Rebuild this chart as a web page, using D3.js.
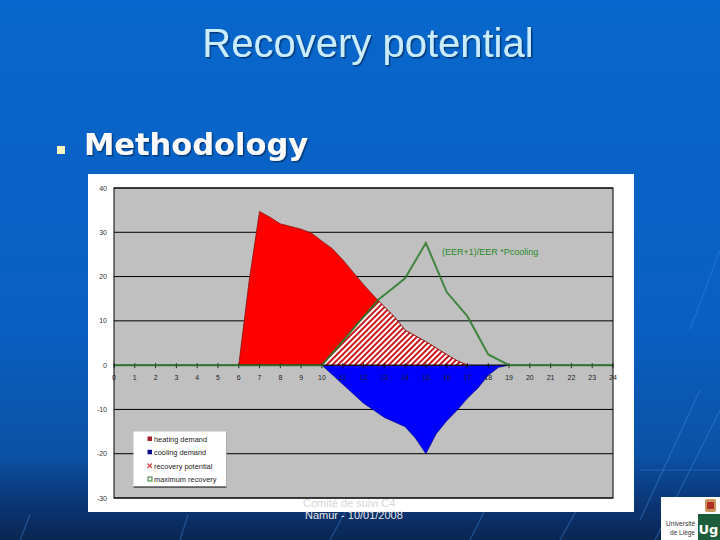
<!DOCTYPE html>
<html><head><meta charset="utf-8">
<script src="https://cdn.jsdelivr.net/npm/d3@7/dist/d3.min.js"></script>
<style>html,body{margin:0;padding:0;background:#0a5fc2;}svg{display:block;}</style>
</head><body>
<svg id="c" width="720" height="540"></svg>
<script>
// ---- data ----
const hourTicks = d3.range(0, 25);
const yTicks = [-30, -20, -10, 0, 10, 20, 30, 40];

const heatHours  = [6, 6.5, 7, 7.5, 8, 8.5, 9, 9.5, 10, 10.5, 11, 11.5, 12, 12.5, 13, 13.5, 14, 15, 16, 16.5, 17];
const heatValues = [0, 19, 34.7, 33.4, 31.9, 31.3, 30.7, 29.8, 28.0, 26.3, 23.8, 21.0, 18.2, 15.6, 13.2, 10.8, 7.9, 5.3, 2.4, 1.0, 0];

const coolHours  = [10, 11, 12, 12.5, 13, 14, 14.5, 15, 15.5, 16, 16.5, 17, 17.5, 18, 18.5, 19];
const coolValues = [0, -4.3, -8.6, -10.2, -11.8, -13.9, -16.5, -20, -15.5, -12.6, -10.2, -7.5, -5.2, -2.3, -0.5, 0];

const recHours  = [10, 11, 12, 12.7, 13, 13.5, 14, 15, 16, 16.5, 17];
const recValues = [0, 5.4, 10.9, 14.6, 13.2, 10.8, 7.9, 5.3, 2.4, 1.0, 0];

const maxHours  = [0, 10, 11, 12, 12.7, 14, 15, 16, 17, 18, 19, 24];
const maxValues = [0, 0, 5.4, 10.9, 14.7, 19.6, 27.6, 16.5, 11.0, 2.4, 0, 0];

const legendLabels = ["heating demand", "cooling demand", "recovery potential", "maximum recovery"];
const annotation = "(EER+1)/EER *Pcooling";

// ---- drawing ----
const svg = d3.select("#c");
const defs = svg.append("defs");
const bg = defs.append("linearGradient").attr("id","bg").attr("x1",0).attr("y1",0).attr("x2",0).attr("y2",1);
[[0,"#0867cc"],[0.6,"#0a5fc2"],[0.84,"#0b52a6"],[0.94,"#0b3472"],[1,"#0a2652"]].forEach(s=>bg.append("stop").attr("offset",s[0]).attr("stop-color",s[1]));
const pat = defs.append("pattern").attr("id","hatch").attr("patternUnits","userSpaceOnUse")
  .attr("width",4).attr("height",4).attr("patternTransform","rotate(45)");
pat.append("rect").attr("width",4).attr("height",4).attr("fill","#ffffff");
pat.append("rect").attr("width",2).attr("height",4).attr("fill","#c8181c");
const sh = defs.append("filter").attr("id","shadow").attr("x","-10%").attr("y","-20%").attr("width","130%").attr("height","150%");
sh.append("feDropShadow").attr("dx",1.5).attr("dy",1.5).attr("stdDeviation",0.6).attr("flood-color","#04285a").attr("flood-opacity",0.7);

svg.append("rect").attr("width",720).attr("height",540).attr("fill","url(#bg)");
// faint background streaks
const streaks = [[330,540,345,512],[470,540,490,500],[560,540,585,495],[640,520,700,390],[655,540,720,410],[690,330,720,250],[640,470,720,470],[20,540,30,515],[180,540,188,515]];
svg.selectAll("line.streak").data(streaks).join("line").attr("class","streak")
  .attr("x1",d=>d[0]).attr("y1",d=>d[1]).attr("x2",d=>d[2]).attr("y2",d=>d[3])
  .attr("stroke","#3f88d8").attr("stroke-opacity",0.45).attr("stroke-width",1.2);

// title
svg.append("text").attr("x",368).attr("y",56.5).attr("text-anchor","middle")
  .attr("font-family","Liberation Sans, Arial, sans-serif").attr("font-size",40)
  .attr("fill","#c9edfc").attr("filter","url(#shadow)").text("Recovery potential");

// bullet + subtitle
svg.append("rect").attr("x",57).attr("y",146).attr("width",8).attr("height",8).attr("fill","#fbf7c0");
svg.append("text").attr("x",84).attr("y",154.5).attr("font-family","DejaVu Sans, Verdana, sans-serif")
  .attr("font-weight","bold").attr("font-size",30.5).attr("fill","#fbfbfb").attr("filter","url(#shadow)").text("Methodology");

// chart frame
svg.append("rect").attr("x",88).attr("y",174).attr("width",546).attr("height",338).attr("fill","#ffffff");

const x = d3.scaleLinear().domain([0,24]).range([114,613]);
const y = d3.scaleLinear().domain([-30,40]).range([498,188]);

svg.append("rect").attr("x",x(0)).attr("y",y(40)).attr("width",x(24)-x(0)).attr("height",y(-30)-y(40))
  .attr("fill","#c0c0c0");

// gridlines
svg.append("g").selectAll("line").data(yTicks.filter(v=>v!==0)).join("line")
  .attr("x1",x(0)).attr("x2",x(24)).attr("y1",d=>y(d)).attr("y2",d=>y(d))
  .attr("stroke","#000").attr("stroke-width",1);

// y labels
svg.append("g").selectAll("text").data(yTicks).join("text")
  .attr("x",107).attr("y",d=>y(d)+2.5).attr("text-anchor","end")
  .attr("font-family","Liberation Sans, Arial, sans-serif").attr("font-size",7).attr("fill","#333")
  .text(d=>d);

const zip = (hs, vs) => hs.map((h,i)=>[h, vs[i]]);
const area = d3.area().x(d=>x(d[0])).y0(y(0)).y1(d=>y(d[1]));
const line = d3.line().x(d=>x(d[0])).y(d=>y(d[1]));

svg.append("path").datum(zip(heatHours,heatValues)).attr("d",area)
  .attr("fill","#ff0000").attr("stroke","#8a1010").attr("stroke-width",0.8);
svg.append("path").datum(zip(coolHours,coolValues)).attr("d",area)
  .attr("fill","#0000ff").attr("stroke","#00007a").attr("stroke-width",0.6);
svg.append("path").datum(zip(recHours,recValues)).attr("d",area)
  .attr("fill","url(#hatch)").attr("stroke","#8a1010").attr("stroke-width",0.6);

// x axis line + ticks
svg.append("line").attr("x1",x(0)).attr("x2",x(24)).attr("y1",y(0)).attr("y2",y(0)).attr("stroke","#000");
svg.append("g").selectAll("line").data(hourTicks).join("line")
  .attr("x1",d=>x(d)).attr("x2",d=>x(d)).attr("y1",y(0)-2).attr("y2",y(0)+3)
  .attr("stroke","#000").attr("stroke-width",0.8);
svg.append("g").selectAll("text").data(hourTicks).join("text")
  .attr("x",d=>x(d)).attr("y",y(0)+14.5).attr("text-anchor","middle")
  .attr("font-family","Liberation Sans, Arial, sans-serif").attr("font-size",7).attr("fill","#222")
  .text(d=>d);

// maximum recovery line
svg.append("path").datum(zip(maxHours,maxValues)).attr("d",line)
  .attr("fill","none").attr("stroke","#2a7a2a").attr("stroke-opacity",0.85).attr("stroke-width",2);

// plot border
svg.append("rect").attr("x",x(0)).attr("y",y(40)).attr("width",x(24)-x(0)).attr("height",y(-30)-y(40))
  .attr("fill","none").attr("stroke","#000").attr("stroke-width",1);

// annotation
svg.append("text").attr("x",442).attr("y",255).attr("font-family","Liberation Sans, Arial, sans-serif")
  .attr("font-size",9).attr("fill","#2a8a2a").text(annotation);

// legend
const lg = svg.append("g");
lg.append("rect").attr("x",133.5).attr("y",431.5).attr("width",93).attr("height",55.5).attr("fill","#fff");
lg.append("line").attr("x1",133.5).attr("x2",226.5).attr("y1",487).attr("y2",487).attr("stroke","#000");
lg.append("line").attr("x1",226.5).attr("x2",226.5).attr("y1",432).attr("y2",487).attr("stroke","#888").attr("stroke-width",0.6);
const rowsY = [439, 452.3, 466, 479];
legendLabels.forEach((t,i)=>{
  const yy = rowsY[i];
  if (i===0) lg.append("rect").attr("x",147.5).attr("y",yy-2.5).attr("width",4.5).attr("height",4.5).attr("fill","#a31f2a");
  if (i===1) lg.append("rect").attr("x",147.5).attr("y",yy-2.5).attr("width",4.5).attr("height",4.5).attr("fill","#0c0c8a");
  if (i===2) {
    lg.append("path").attr("d",`M147.5,${yy-2.5}L152,${yy+2}M152,${yy-2.5}L147.5,${yy+2}`).attr("stroke","#d04040").attr("stroke-width",1.1);
  }
  if (i===3) lg.append("rect").attr("x",148).attr("y",yy-2).attr("width",4).attr("height",4).attr("fill","#fff").attr("stroke","#2a7f2a").attr("stroke-width",1);
  lg.append("text").attr("x",154).attr("y",yy+2.5).attr("font-family","Liberation Sans, Arial, sans-serif")
    .attr("font-size",7.4).attr("fill","#222").text(t);
});

// footer
svg.append("text").attr("x",303).attr("y",507).attr("font-family","Liberation Sans, Arial, sans-serif")
  .attr("font-size",11).attr("fill","#d6d6d6").text("Comité de suivi C4");
svg.append("text").attr("x",305).attr("y",518.5).attr("font-family","Liberation Sans, Arial, sans-serif")
  .attr("font-size",11).attr("fill","#e8e8e8").text("Namur - 10/01/2008");

// logo
const logo = svg.append("g");
logo.append("rect").attr("x",661).attr("y",497).attr("width",59).attr("height",43).attr("fill","#fff");
logo.append("text").attr("x",695).attr("y",526).attr("text-anchor","end").attr("font-family","Liberation Sans, Arial, sans-serif")
  .attr("font-size",6.5).attr("fill","#333").text("Université");
logo.append("text").attr("x",695).attr("y",535).attr("text-anchor","end").attr("font-family","Liberation Sans, Arial, sans-serif")
  .attr("font-size",6.5).attr("fill","#333").text("de Liège");
logo.append("rect").attr("x",698).attr("y",514).attr("width",22).attr("height",26).attr("fill","#1c5e3c");
logo.append("text").attr("x",708.5).attr("y",534).attr("text-anchor","middle").attr("font-family","DejaVu Sans, sans-serif")
  .attr("font-weight","bold").attr("font-size",13).attr("fill","#fff").text("Ug");
logo.append("rect").attr("x",705).attr("y",499).attr("width",11).attr("height",13).attr("rx",2).attr("fill","#c9975a");
logo.append("rect").attr("x",707).attr("y",502).attr("width",7).attr("height",7).attr("fill","#b03028");
</script>
</body></html>
